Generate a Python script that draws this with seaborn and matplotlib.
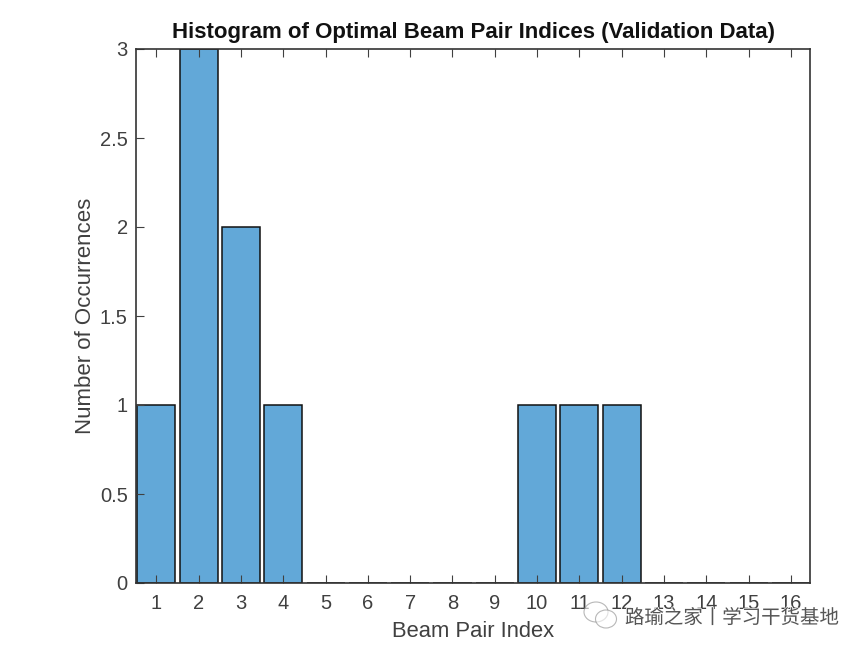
import matplotlib
matplotlib.use("Agg")
import matplotlib.pyplot as plt
import matplotlib.patheffects as pe
import seaborn as sns
from matplotlib.patches import Ellipse

beam_index = list(range(1, 17))
occurrences = [1, 3, 2, 1, 0, 0, 0, 0, 0, 1, 1, 1, 0, 0, 0, 0]
y_ticks = [0, 0.5, 1, 1.5, 2, 2.5, 3]
y_tick_labels = ["0", "0.5", "1", "1.5", "2", "2.5", "3"]

sns.set_theme(style="white")
plt.rcParams["font.family"] = ["Liberation Sans", "DejaVu Sans"]

fig = plt.figure(figsize=(8.68, 6.54), dpi=100)
ax = fig.add_axes([136 / 868, 1 - 583 / 654, 674 / 868, 534 / 654])

sns.barplot(x=beam_index, y=occurrences, native_scale=True, width=0.9,
            color="#62A8D8", saturation=1, edgecolor="#111111", linewidth=1.1, ax=ax)

ax.set_xlim(0.52, 16.45)
ax.set_ylim(0, 3)
ax.set_xticks(beam_index)
ax.set_xticklabels([str(i) for i in beam_index])
ax.set_yticks(y_ticks)
ax.set_yticklabels(y_tick_labels)
ax.set_axisbelow(False)
ax.tick_params(direction="in", length=6, width=0.8, color="#404040",
               labelcolor="#404040", labelsize=14.5, top=True, bottom=True, left=True, right=False)
ax.tick_params(axis="x", pad=8)
ax.tick_params(axis="y", pad=6)

for side in ["left", "bottom", "top", "right"]:
    ax.spines[side].set_visible(True)
    ax.spines[side].set_color("#333333")
    ax.spines[side].set_linewidth(1.2)
    ax.spines[side].set_zorder(5)

ax.set_xlabel("Beam Pair Index", fontsize=15.8, color="#404040", labelpad=6)
ax.set_ylabel("Number of Occurrences", fontsize=16, color="#404040", labelpad=3)
ax.set_title("Histogram of Optimal Beam Pair Indices (Validation Data)",
             fontsize=16, fontweight="bold", color="#111111", pad=8)

# watermark
for cx, cy, w, h in [(596, 612, 24, 20), (606, 619, 21, 18)]:
    fig.add_artist(Ellipse((cx / 868, 1 - cy / 654), w / 868, h / 654, transform=fig.transFigure,
                           facecolor="white", edgecolor="#888888", linewidth=0.8, alpha=0.6))
wm = fig.text(625 / 868, 1 - 618 / 654, "路瑜之家丨学习干货基地", fontsize=14, color="#555555",
              va="center", ha="left", family=["Noto Sans CJK SC", "DejaVu Sans"])
wm.set_path_effects([pe.withStroke(linewidth=1, foreground="white")])

fig.savefig("out.png", dpi=100)
